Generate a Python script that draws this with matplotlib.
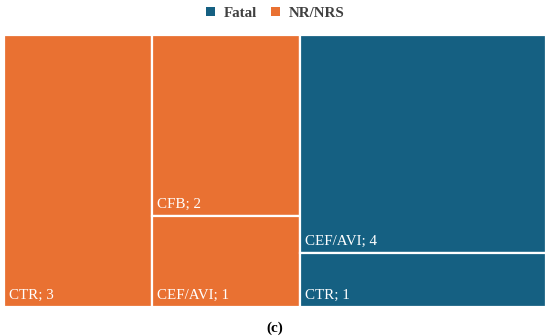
import matplotlib.pyplot as plt
from matplotlib.patches import Rectangle, Patch

# data
groups = ["Fatal", "NR/NRS"]
group_colors = {"Fatal": "#156082", "NR/NRS": "#E97132"}
nr_labels = ["CTR", "CFB", "CEF/AVI"]
nr_values = [3, 2, 1]
fatal_labels = ["CEF/AVI", "CTR"]
fatal_values = [4, 1]

# layout box (in pixel-like units so squarify sees the right aspect)
W, H = 542, 272


def worst(row, side):
    s = sum(row)
    return max(max(side * side * r / (s * s), s * s / (side * side * r)) for r in row)


def squarify(values, x, y, w, h):
    """Return list of (x, y, w, h) for values (already scaled to areas)."""
    rects = []
    vals = list(values)
    while vals:
        side = min(w, h)
        row = [vals[0]]
        i = 1
        while i < len(vals) and worst(row + [vals[i]], side) <= worst(row, side):
            row.append(vals[i])
            i += 1
        s = sum(row)
        if w >= h:
            cw = s / h
            cy = y
            for r in row:
                rh = r / cw
                rects.append((x, cy, cw, rh))
                cy += rh
            x += cw
            w -= cw
        else:
            rh = s / w
            cx = x
            for r in row:
                cw = r / rh
                rects.append((cx, y, cw, rh))
                cx += cw
            y += rh
            h -= rh
        vals = vals[i:]
    return rects


total = sum(nr_values) + sum(fatal_values)
scale = W * H / total
top = squarify([sum(nr_values) * scale, sum(fatal_values) * scale], 0, 0, W, H)

fig = plt.figure(figsize=(5.5, 3.36), dpi=100)
ax = fig.add_axes([4 / 550, (336 - 307) / 336, 542 / 550, 272 / 336])
ax.set_xlim(0, W)
ax.set_ylim(H, 0)
ax.axis("off")

for (gx, gy, gw, gh), labels, values, grp in [
    (top[0], nr_labels, nr_values, "NR/NRS"),
    (top[1], fatal_labels, fatal_values, "Fatal"),
]:
    rects = squarify([v * scale for v in values], gx, gy, gw, gh)
    for (rx, ry, rw, rh), lab, v in zip(rects, labels, values):
        ax.add_patch(Rectangle((rx, ry), rw, rh, facecolor=group_colors[grp],
                               edgecolor="white", linewidth=1.6))
        ax.text(rx + 5, ry + rh - 8, f"{lab}; {v}", color="white",
                fontsize=10.8, family="Liberation Serif", ha="left", va="baseline")

handles = [Patch(facecolor=group_colors[g], edgecolor="none") for g in groups]
fig.legend(handles, groups, loc="upper center", bbox_to_anchor=(0.5, 1.02), ncol=2,
           frameon=False, handlelength=0.6, handleheight=0.6, handletextpad=0.6,
           columnspacing=0.9,
           prop={"family": "Liberation Serif", "weight": "bold", "size": 10.8},
           labelcolor="#404040")

fig.text(0.5, (336 - 328) / 336, "(c)", ha="center", va="center",
         family="Liberation Serif", weight="bold", fontsize=11)

fig.savefig("out.png", dpi=100)
